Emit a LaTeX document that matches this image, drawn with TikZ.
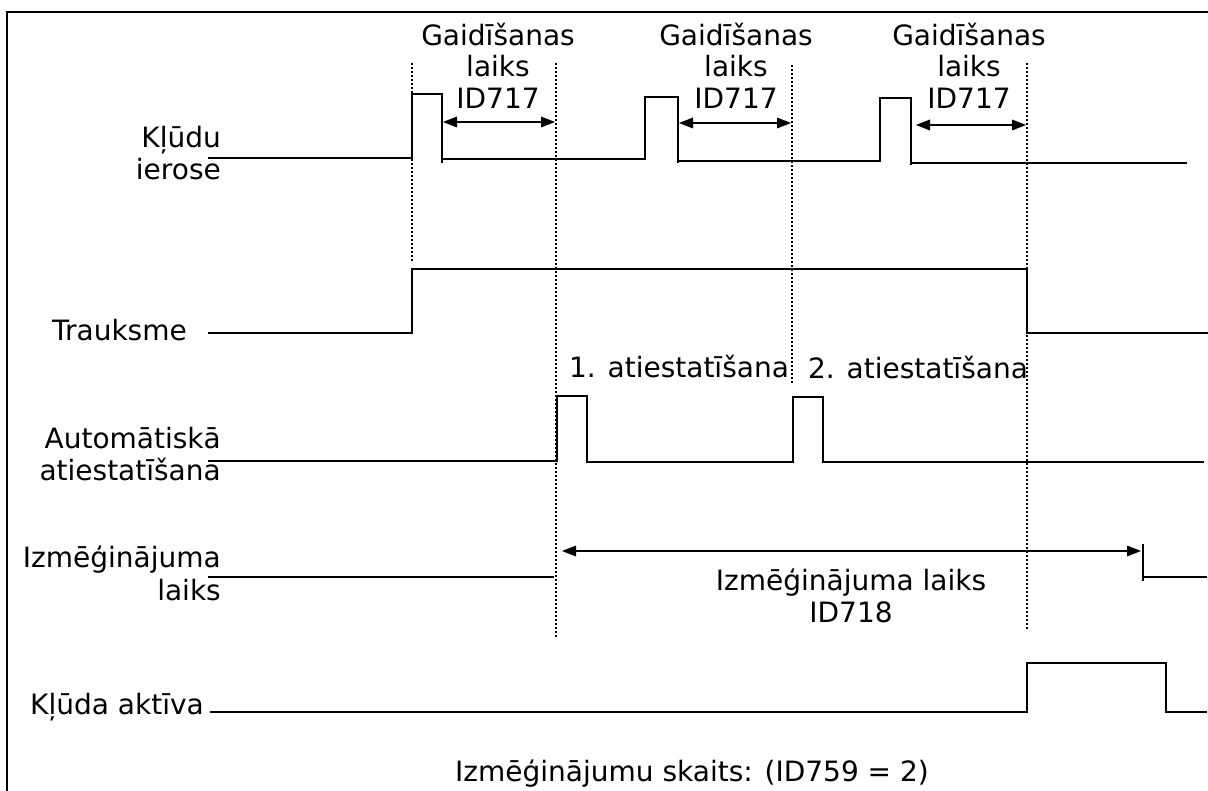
\documentclass[tikz,border=0pt]{standalone}
\usepackage{fontspec}
\setmainfont{DejaVu Sans}
\begin{document}
\begin{tikzpicture}[x=1pt,y=-1pt,
  sig/.style={line width=1.7pt, line join=miter, line cap=rect},
  guide/.style={line width=1.3pt, dash pattern=on 2pt off 2pt},
  shaft/.style={line width=1.6pt},
  lbl/.style={inner sep=0pt, font=\fontsize{28}{32}\selectfont},
]
\useasboundingbox (0,0) rectangle (1208,791);
% frame
\draw[line width=1.7pt] (1208,12) -- (7,12) -- (7,791);

% left labels
\node[lbl, anchor=base east] (l1a) at (221,148) {Kļūdu};
\node[lbl, anchor=base east] (l1b) at (221,180) {ierose};
\node[lbl, anchor=base east] (l2)  at (187,341) {Trauksme};
\node[lbl, anchor=base east] (l3a) at (221,449) {Automātiskā};
\node[lbl, anchor=base east] (l3b) at (221,481) {atiestatīšana};
\node[lbl, anchor=base east] (l4a) at (221,567) {Izmēģinājuma};
\node[lbl, anchor=base east] (l4b) at (221,600) {laiks};
\node[lbl, anchor=base east] (l5)  at (204,714) {Kļūda aktīva};

% delay headers
\foreach \c/\n in {498/a,736/b,969/c}{
  \node[lbl, anchor=base] (g\n1) at (\c,46) {Gaidīšanas};
  \node[lbl, anchor=base] (g\n2) at (\c,77) {laiks};
  \node[lbl, anchor=base] (g\n3) at (\c,109) {ID717};
}

% reset labels
\node[lbl, anchor=base] (r1) at (679,378) {1. atiestatīšana};
\node[lbl, anchor=base] (r2) at (918,379) {2. atiestatīšana};

% trial time labels
\node[lbl, anchor=base] (tt1) at (851,590) {Izmēģinājuma laiks};
\node[lbl, anchor=base] (tt2) at (851,622) {ID718};

% bottom
\node[lbl, anchor=base] (cnt) at (692,781) {Izmēģinājumu skaits: (ID759 = 2)};

% dotted guides
\draw[guide] (412,63) -- (412,262);
\draw[guide] (556,63) -- (556,637);
\draw[guide] (792,65) -- (792,383);
\draw[guide] (1027,63) -- (1027,630);

% row 1: fault trigger
\draw[sig] (209,158) -- (412,158) -- (412,94) -- (442,94) -- (442,162);
\draw[sig] (443,159) -- (645,159) -- (645,97) -- (678,97) -- (678,162);
\draw[sig] (679,161) -- (880,161) -- (880,98) -- (911,98) -- (911,164);
\draw[sig] (912,163) -- (1186,163);

% delay arrows (shaft + triangular heads)
\coordinate (d1s) at (443,122); \coordinate (d1e) at (555,122);
\coordinate (d2s) at (679,123); \coordinate (d2e) at (791,123);
\coordinate (d3s) at (916,125); \coordinate (d3e) at (1026,125);
\coordinate (ts) at (562,551); \coordinate (te) at (1141,551);
\foreach \s/\e in {d1s/d1e, d2s/d2e, d3s/d3e, ts/te}{
  \draw[shaft] ([xshift=6pt]\s) -- ([xshift=-6pt]\e);
  \fill (\s) -- ++(14,-5.5) -- ++(0,11) -- cycle;
  \fill (\e) -- ++(-14,-5.5) -- ++(0,11) -- cycle;
}

% row 2: alarm
\draw[sig] (209,333) -- (412,333) -- (412,269) -- (1027,269) -- (1027,333) -- (1208,333);

% row 3: automatic reset
\draw[sig] (209,461) -- (557,461) -- (557,396) -- (587,396) -- (587,462) -- (793,462) -- (793,397) -- (823,397) -- (823,462) -- (1203,462);

% row 4: trial time
\draw[sig] (209,577) -- (553,577);
\draw[sig] (1143,545) -- (1143,580);
\draw[sig] (1143,577) -- (1206,577);

% row 5: fault active
\draw[sig] (211,712) -- (1027,712) -- (1027,663) -- (1166,663) -- (1166,712) -- (1206,712);
\end{tikzpicture}
\end{document}
